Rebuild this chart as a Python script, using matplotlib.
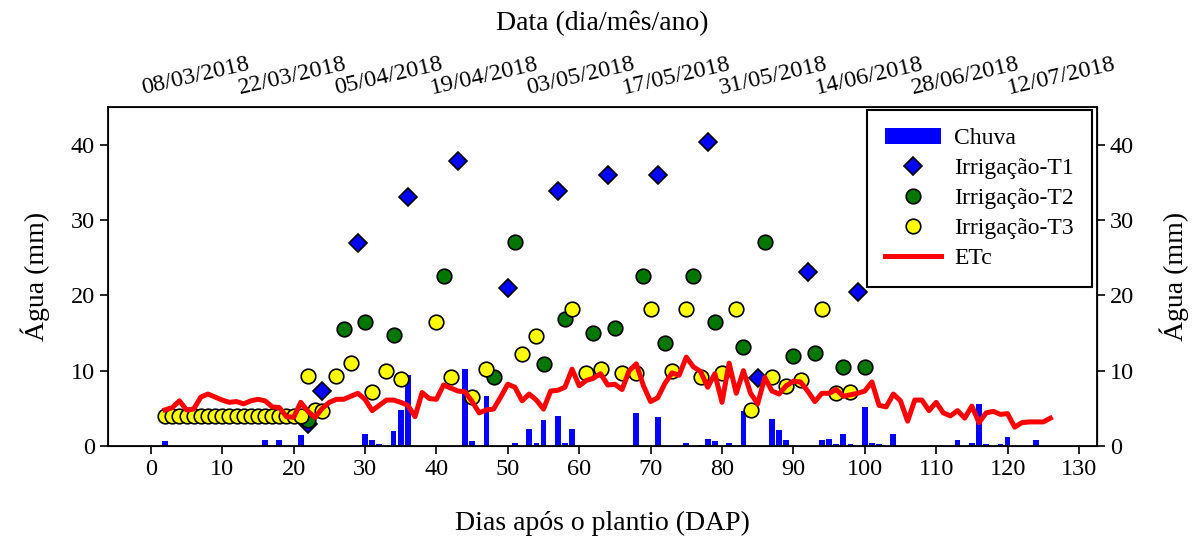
import matplotlib
matplotlib.use("Agg")
import matplotlib.pyplot as plt

plt.rcParams["font.family"] = ["Liberation Serif", "DejaVu Serif"]

# chuva (mm) por dia após o plantio
dap_chuva = [2, 16, 18, 21, 30, 31, 32, 34, 35, 36, 44, 45, 47, 51, 53, 54, 55,
             57, 58, 59, 68, 71, 75, 77, 78, 79, 81, 83, 87, 88, 89, 94, 95, 96,
             97, 98, 100, 101, 102, 104, 113, 115, 116, 117, 119, 120, 124]
chuva = [0.7, 0.8, 0.8, 1.4, 1.6, 0.8, 0.3, 2.0, 4.8, 9.4, 10.2, 0.7, 6.6, 0.4,
         2.2, 0.4, 3.4, 4.0, 0.4, 2.2, 4.4, 3.9, 0.4, 0.2, 1.0, 0.7, 0.4, 4.6,
         3.6, 2.1, 0.8, 0.8, 1.0, 0.3, 1.6, 0.3, 5.2, 0.4, 0.3, 1.6, 0.8, 0.4,
         5.6, 0.3, 0.3, 1.2, 0.8]

# irrigações
dap_t1 = [22, 24, 29, 36, 43, 50, 57, 64, 71, 78, 85, 92, 99]
t1 = [2.9, 7.3, 27.0, 33.0, 37.8, 21.0, 33.9, 36.0, 36.0, 40.4, 9.0, 23.1, 20.5]

dap_t2 = [22, 27, 30, 34, 41, 48, 51, 55, 58, 62, 65, 69, 72, 76, 79, 83, 86,
          90, 93, 97, 100]
t2 = [3.5, 15.5, 16.4, 14.7, 22.6, 9.2, 27.1, 10.9, 16.9, 15.0, 15.7, 22.6,
      13.7, 22.6, 16.4, 13.2, 27.1, 12.0, 12.4, 10.5, 10.5]

dap_t3 = [2, 3, 4, 5, 6, 7, 8, 9, 10, 11, 12, 13, 14, 15, 16, 17, 18, 19, 20,
          21, 22, 23, 24, 26, 28, 31, 33, 35, 40, 42, 45, 47, 52, 54, 59, 61,
          63, 66, 68, 70, 73, 75, 77, 80, 82, 84, 87, 89, 91, 94, 96, 98]
t3 = [4.0, 4.0, 4.0, 4.0, 4.0, 4.0, 4.0, 4.0, 4.0, 4.0, 4.0, 4.0, 4.0, 4.0,
      4.0, 4.0, 4.0, 4.0, 4.0, 4.0, 9.3, 4.8, 4.6, 9.3, 11.0, 7.2, 9.9, 8.9,
      16.4, 9.2, 6.5, 10.2, 12.2, 14.6, 18.2, 9.7, 10.2, 9.7, 9.7, 18.2, 10.0,
      18.2, 9.2, 9.7, 18.2, 4.8, 9.2, 8.0, 8.8, 18.2, 7.1, 7.2]

# evapotranspiração da cultura, DAP 2 a 126
dap_etc = list(range(2, 127))
etc = [4.8, 5.1, 6.0, 4.8, 4.9, 6.5, 6.9, 6.5, 6.1, 5.8, 5.9, 5.6, 6.0, 6.2,
       6.0, 5.2, 5.1, 3.9, 3.8, 5.8, 4.6, 3.8, 5.0, 5.8, 6.2, 6.2, 6.6, 7.0,
       6.2, 4.7, 5.4, 6.1, 6.1, 5.8, 5.4, 3.9, 7.1, 6.3, 6.2, 8.1, 7.7, 7.3,
       7.2, 5.9, 4.4, 4.8, 4.9, 6.5, 8.2, 7.8, 6.0, 6.9, 6.1, 4.9, 7.3, 7.4,
       7.8, 10.2, 8.0, 8.7, 9.0, 9.6, 8.1, 8.2, 7.5, 10.0, 10.9, 8.0, 5.9, 6.4,
       8.3, 9.7, 9.4, 11.8, 10.5, 9.9, 7.8, 9.6, 5.8, 11.0, 7.0, 10.0, 7.0,
       5.6, 9.1, 7.3, 6.9, 8.0, 8.6, 8.5, 7.3, 5.9, 7.0, 7.0, 7.5, 6.6, 6.8,
       7.0, 7.3, 8.5, 5.4, 5.2, 6.9, 6.0, 3.3, 6.1, 6.1, 4.7, 5.8, 4.4, 4.0,
       4.7, 3.7, 5.3, 3.1, 4.4, 4.6, 4.2, 4.3, 2.5, 3.1, 3.2, 3.2, 3.2, 3.7]

# eixo superior: datas a cada 14 dias (dias contados a partir de 08/03/2018)
date_offsets = [0, 14, 28, 42, 56, 70, 84, 98, 112, 126]
date_labels = ["08/03/2018", "22/03/2018", "05/04/2018", "19/04/2018",
               "03/05/2018", "17/05/2018", "31/05/2018", "14/06/2018",
               "28/06/2018", "12/07/2018"]

fig, ax = plt.subplots(figsize=(12, 5.4), dpi=100)
fig.subplots_adjust(left=0.09, right=0.914, bottom=0.174, top=0.802)

h_chuva = ax.bar(dap_chuva, chuva, width=0.8, color="#0000ff", zorder=1,
                 label="Chuva")
h_t1, = ax.plot(dap_t1, t1, ls="none", marker="D", ms=9.5, mfc="#0000ff",
                mec="black", mew=1.2, zorder=3, label="Irrigação-T1")
h_t2, = ax.plot(dap_t2, t2, ls="none", marker="o", ms=10.5, mfc="#007800",
                mec="black", mew=1.2, zorder=4, label="Irrigação-T2")
h_t3, = ax.plot(dap_t3, t3, ls="none", marker="o", ms=10.5, mfc="#ffff00",
                mec="black", mew=1.2, zorder=5, label="Irrigação-T3")
h_etc, = ax.plot(dap_etc, etc, color="#ff0000", lw=3.6, zorder=6, label="ETc")

ax.set_xlim(-6, 132.5)
ax.set_ylim(0, 45)
ax.set_xticks(range(0, 131, 10))
ax.set_yticks(range(0, 41, 10))
ax.tick_params(direction="out", length=6, width=1.2, labelsize=17.5)
for s in ax.spines.values():
    s.set_linewidth(1.3)
ax.set_xlabel("Dias após o plantio (DAP)", fontsize=20, labelpad=22)
ax.set_ylabel("Água (mm)", fontsize=20, labelpad=15)

right = ax.secondary_yaxis("right")
right.set_yticks(range(0, 41, 10))
right.tick_params(direction="out", length=6, width=1.2, labelsize=17.5)
right.set_ylabel("Água (mm)", fontsize=20, labelpad=18)

top = ax.twiny()
top.set_xlim(-12.8, 131.1)
top.set_xticks(date_offsets)
top.set_xticklabels(date_labels, rotation=13)
top.tick_params(axis="x", length=0, pad=6, labelsize=17.5)
top.set_xlabel("Data (dia/mês/ano)", fontsize=20, labelpad=17)

leg = ax.legend([h_chuva, h_t1, h_t2, h_t3, h_etc],
                ["Chuva", "Irrigação-T1", "Irrigação-T2", "Irrigação-T3", "ETc"],
                loc="upper right", bbox_to_anchor=(0.995, 0.991),
                borderaxespad=0, fontsize=17, fancybox=False,
                edgecolor="black", framealpha=1, handlelength=2.4,
                handletextpad=0.55, labelspacing=0.36, borderpad=0.75)
leg.get_frame().set_linewidth(1.5)

fig.savefig("out.png", dpi=100)
